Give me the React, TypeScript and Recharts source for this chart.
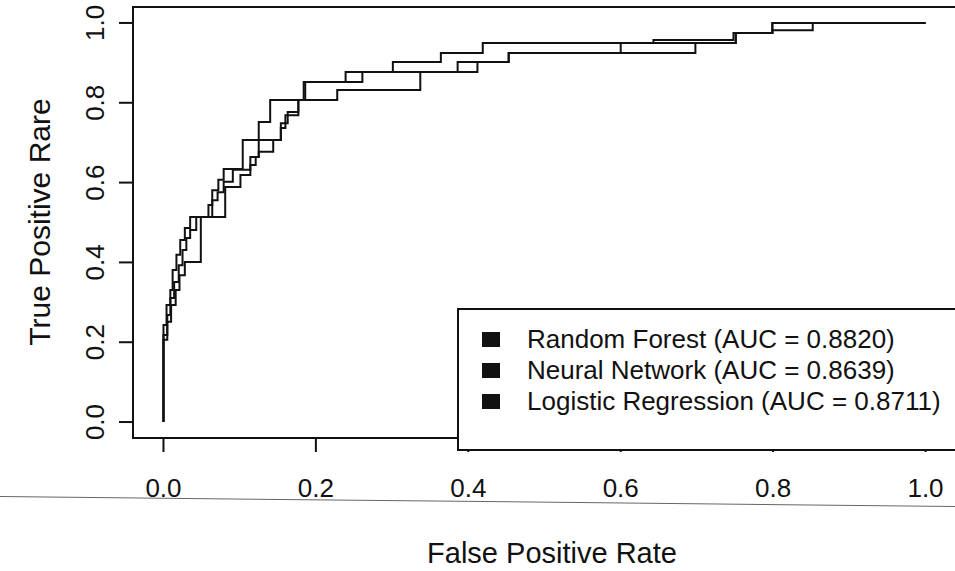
import React from "react";
import { LineChart, Line, XAxis, YAxis, ReferenceArea, Legend, Label } from "recharts";

// ROC corner points: [false positive rate, true positive rate]
const rfPoints = [
  [0, 0], [0, 0.243], [0.004, 0.243], [0.004, 0.293], [0.009, 0.293], [0.009, 0.331],
  [0.012, 0.331], [0.012, 0.381], [0.017, 0.381], [0.017, 0.419], [0.022, 0.419], [0.022, 0.456],
  [0.028, 0.456], [0.028, 0.486], [0.035, 0.486], [0.035, 0.514], [0.059, 0.514], [0.059, 0.544],
  [0.064, 0.544], [0.064, 0.581], [0.072, 0.581], [0.072, 0.607], [0.079, 0.607], [0.079, 0.634],
  [0.104, 0.634], [0.104, 0.707], [0.125, 0.707], [0.125, 0.752], [0.14, 0.752], [0.14, 0.807],
  [0.184, 0.807], [0.184, 0.852], [0.239, 0.852], [0.239, 0.877], [0.301, 0.877], [0.301, 0.902],
  [0.364, 0.902], [0.364, 0.925], [0.419, 0.925], [0.419, 0.95], [0.751, 0.95], [0.751, 0.975],
  [0.799, 0.975], [0.799, 1], [1, 1],
];

const nnPoints = [
  [0, 0], [0, 0.206], [0.005, 0.206], [0.005, 0.251], [0.01, 0.251], [0.01, 0.293],
  [0.016, 0.293], [0.016, 0.331], [0.021, 0.331], [0.021, 0.368], [0.028, 0.368], [0.028, 0.401],
  [0.049, 0.401], [0.049, 0.514], [0.081, 0.514], [0.081, 0.589], [0.101, 0.589], [0.101, 0.619],
  [0.114, 0.619], [0.114, 0.644], [0.121, 0.644], [0.121, 0.664], [0.125, 0.664], [0.125, 0.677],
  [0.144, 0.677], [0.144, 0.707], [0.154, 0.707], [0.154, 0.737], [0.16, 0.737], [0.16, 0.769],
  [0.177, 0.769], [0.177, 0.807], [0.228, 0.807], [0.228, 0.832], [0.337, 0.832], [0.337, 0.877],
  [0.412, 0.877], [0.412, 0.902], [0.453, 0.902], [0.453, 0.925], [0.698, 0.925], [0.698, 0.95],
  [0.751, 0.95], [0.751, 0.975], [0.799, 0.975], [0.799, 0.982], [0.852, 0.982], [0.852, 1], [1, 1],
];

const lrPoints = [
  [0, 0], [0, 0.218], [0.005, 0.218], [0.005, 0.268], [0.009, 0.268], [0.009, 0.311],
  [0.014, 0.311], [0.014, 0.351], [0.02, 0.351], [0.02, 0.393], [0.025, 0.393], [0.025, 0.431],
  [0.03, 0.431], [0.03, 0.461], [0.035, 0.461], [0.035, 0.481], [0.043, 0.481], [0.043, 0.514],
  [0.064, 0.514], [0.064, 0.556], [0.071, 0.556], [0.071, 0.576], [0.079, 0.576], [0.079, 0.602],
  [0.091, 0.602], [0.091, 0.632], [0.114, 0.632], [0.114, 0.664], [0.125, 0.664], [0.125, 0.707],
  [0.154, 0.707], [0.154, 0.749], [0.163, 0.749], [0.163, 0.777], [0.177, 0.777], [0.177, 0.807],
  [0.186, 0.807], [0.186, 0.852], [0.261, 0.852], [0.261, 0.877], [0.386, 0.877], [0.386, 0.902],
  [0.453, 0.902], [0.453, 0.925], [0.6, 0.925], [0.6, 0.95], [0.643, 0.95], [0.643, 0.957],
  [0.748, 0.957], [0.748, 0.975], [0.799, 0.975], [0.799, 1], [1, 1],
];

const legendLabels = [
  "Random Forest (AUC = 0.8820)",
  "Neural Network (AUC = 0.8639)",
  "Logistic Regression (AUC = 0.8711)",
];

const xTicks = [0, 0.2, 0.4, 0.6, 0.8, 1];
const yTicks = [0, 0.2, 0.4, 0.6, 0.8, 1];

const toRows = (pts: number[][]) => pts.map(([fpr, tpr]) => ({ fpr, tpr }));

const FONT = '"Liberation Sans", Arial, Helvetica, sans-serif';
const INK = "#111";

function XTick(props: any) {
  const { x, y, payload } = props;
  return (
    <text x={x} y={y + 45} textAnchor="middle" fontSize={26} fontFamily={FONT} fill={INK}>
      {Number(payload.value).toFixed(1)}
    </text>
  );
}

function YTick(props: any) {
  const { x, y, payload } = props;
  const bx = x - 15;
  return (
    <text x={bx} y={y} transform={`rotate(-90, ${bx}, ${y})`} textAnchor="middle" fontSize={26} fontFamily={FONT} fill={INK}>
      {Number(payload.value).toFixed(1)}
    </text>
  );
}

function RocLegend() {
  return (
    <div
      style={{
        width: 510,
        height: 125,
        border: `2px solid ${INK}`,
        boxSizing: "content-box",
        paddingTop: 14,
        paddingLeft: 23,
        background: "#fff",
        fontFamily: FONT,
        fontSize: 26,
        color: INK,
        lineHeight: "31px",
      }}
    >
      {legendLabels.map((name) => (
        <div key={name} style={{ display: "flex", alignItems: "center", whiteSpace: "nowrap" }}>
          <span style={{ display: "inline-block", width: 18, height: 15, background: INK, marginRight: 27 }} />
          <span>{name}</span>
        </div>
      ))}
    </div>
  );
}

export default function App() {
  return (
    <div style={{ position: "absolute", left: 0, top: 0, width: 955, height: 571, overflow: "hidden", background: "#fff" }}>
      <LineChart width={960} height={571} margin={{ top: 7, right: 4, left: 73, bottom: 73 }}>
        <XAxis
          dataKey="fpr"
          type="number"
          domain={[-0.04, 1.04]}
          ticks={xTicks}
          allowDataOverflow
          axisLine={false}
          tickLine={{ stroke: INK, strokeWidth: 2 }}
          tickSize={14}
          tickMargin={0}
          tick={<XTick />}
          height={60}
        >
          <Label
            content={() => (
              <text x={552} y={563} textAnchor="middle" fontSize={29} fontFamily={FONT} fill={INK}>
                False Positive Rate
              </text>
            )}
          />
        </XAxis>
        <YAxis
          type="number"
          domain={[-0.04, 1.04]}
          ticks={yTicks}
          allowDataOverflow
          axisLine={false}
          tickLine={{ stroke: INK, strokeWidth: 2 }}
          tickSize={14}
          tickMargin={0}
          tick={<YTick />}
          width={60}
        >
          <Label
            content={() => (
              <text x={50} y={222} transform="rotate(-90, 50, 222)" textAnchor="middle" fontSize={30} fontFamily={FONT} fill={INK}>
                True Positive Rare
              </text>
            )}
          />
        </YAxis>
        <ReferenceArea x1={-0.04} x2={1.04} y1={-0.04} y2={1.04} fill="none" stroke={INK} strokeWidth={2} ifOverflow="visible" />
        <Line data={toRows(rfPoints)} dataKey="tpr" name={legendLabels[0]} type="linear" stroke={INK} strokeWidth={2} dot={false} isAnimationActive={false} />
        <Line data={toRows(nnPoints)} dataKey="tpr" name={legendLabels[1]} type="linear" stroke={INK} strokeWidth={2} dot={false} isAnimationActive={false} />
        <Line data={toRows(lrPoints)} dataKey="tpr" name={legendLabels[2]} type="linear" stroke={INK} strokeWidth={2} dot={false} isAnimationActive={false} />
        <Legend
          layout="vertical"
          align="center"
          verticalAlign="middle"
          content={<RocLegend />}
          wrapperStyle={{ position: "absolute", left: 457, top: 308, width: 560 }}
        />
      </LineChart>
      <div
        style={{
          position: "absolute",
          left: 0,
          top: 496,
          width: 970,
          borderTop: "1.5px solid #666",
          transform: "rotate(0.6deg)",
          transformOrigin: "0 0",
        }}
      />
    </div>
  );
}
